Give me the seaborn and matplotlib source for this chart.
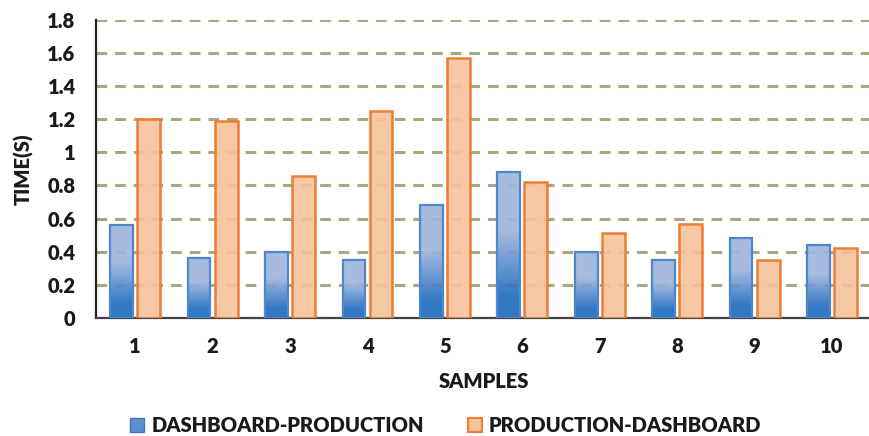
import numpy as np
import pandas as pd
import matplotlib
matplotlib.use("Agg")
import matplotlib.pyplot as plt
import matplotlib.colors as mcolors
from matplotlib.patches import Patch
import seaborn as sns

# Measured response times per sample (seconds)
samples = ["1", "2", "3", "4", "5", "6", "7", "8", "9", "10"]
dash_to_prod = [0.56, 0.36, 0.40, 0.35, 0.68, 0.88, 0.40, 0.35, 0.48, 0.44]
prod_to_dash = [1.20, 1.19, 0.86, 1.25, 1.57, 0.82, 0.51, 0.57, 0.35, 0.42]
series_names = ["DASHBOARD-PRODUCTION", "PRODUCTION-DASHBOARD"]
y_ticks = [0, 0.2, 0.4, 0.6, 0.8, 1, 1.2, 1.4, 1.6, 1.8]
y_tick_labels = ["0", "0.2", "0.4", "0.6", "0.8", "1", "1.2", "1.4", "1.6", "1.8"]

df = pd.DataFrame({
    "sample": samples * 2,
    "time": dash_to_prod + prod_to_dash,
    "series": [series_names[0]] * len(samples) + [series_names[1]] * len(samples),
})

sns.set_theme(style="white")
plt.rcParams["font.family"] = ["Lato", "DejaVu Sans"]
plt.rcParams["font.weight"] = "heavy"

BLUE_DARK = "#1f6cbf"
BLUE_LIGHT = "#9fb5dc"
BLUE_EDGE = "#4f86cc"
ORANGE_FILL = "#f5c29c"
ORANGE_EDGE = "#ed7d31"
GRID = "#a9a682"
TEXT = "#1a1a1a"
FS = 14.5

fig = plt.figure(figsize=(8.69, 4.36), dpi=100)
ax = fig.add_axes([0.111, 0.271, 0.891, 0.683])

sns.barplot(data=df, x="sample", y="time", hue="series", order=samples,
            hue_order=series_names, palette=[BLUE_LIGHT, ORANGE_FILL],
            width=0.70, gap=0.16, ax=ax, legend=False, zorder=2)

n = len(samples)
blue_patches = ax.patches[:n]
orange_patches = ax.patches[n:2 * n]

# vertical gradient for the first series: dark at the base, light above
grad_cmap = mcolors.LinearSegmentedColormap.from_list(
    "bluegrad", [(0.0, BLUE_DARK), (0.15, BLUE_DARK), (0.6, BLUE_LIGHT), (1.0, BLUE_LIGHT)])
t = np.linspace(0, 1, 256).reshape(-1, 1)
for p in blue_patches:
    x0, y0 = p.get_x(), p.get_y()
    w, h = p.get_width(), p.get_height()
    p.set_facecolor("none")
    p.set_edgecolor(BLUE_EDGE)
    p.set_linewidth(1.6)
    p.set_zorder(4)
    im = ax.imshow(t, cmap=grad_cmap, aspect="auto", origin="lower",
                   extent=[x0, x0 + w, y0, y0 + h], zorder=3, alpha=0.92,
                   interpolation="bilinear")
    im.set_clip_path(p)

for p in orange_patches:
    p.set_facecolor(mcolors.to_rgba(ORANGE_FILL, 0.9))
    p.set_edgecolor(ORANGE_EDGE)
    p.set_linewidth(1.8)
    p.set_zorder(3)

ax.set_xlim(-0.5, n - 0.5)
ax.set_ylim(0, 1.8)
ax.set_yticks(y_ticks)
ax.set_yticklabels(y_tick_labels)

ax.yaxis.grid(True, color=GRID, linestyle=(0, (3.5, 2.6)), linewidth=2.2, zorder=1)
ax.xaxis.grid(False)
ax.set_axisbelow(True)

for side in ["top", "right"]:
    ax.spines[side].set_visible(False)
ax.spines["left"].set_color("#222222")
ax.spines["left"].set_linewidth(1.6)
ax.spines["bottom"].set_color("#444444")
ax.spines["bottom"].set_linewidth(1.6)

ax.tick_params(axis="both", length=0, labelsize=FS, colors=TEXT)
ax.tick_params(axis="x", pad=14)
ax.tick_params(axis="y", pad=15)
for lab in ax.get_xticklabels() + ax.get_yticklabels():
    lab.set_fontweight("heavy")

ax.set_xlabel("SAMPLES", fontsize=FS, fontweight="heavy", color=TEXT, labelpad=11)
ax.set_ylabel("TIME(S)", fontsize=FS, fontweight="heavy", color=TEXT, labelpad=10)

handles = [
    Patch(facecolor="#5b8fd1", edgecolor="#3f74bb", linewidth=1.0),
    Patch(facecolor=ORANGE_FILL, edgecolor=ORANGE_EDGE, linewidth=1.5),
]
leg = fig.legend(handles, series_names, loc="center", bbox_to_anchor=(0.513, 0.025),
                 ncol=2, frameon=False, handlelength=0.7, handleheight=0.7,
                 handletextpad=0.35, columnspacing=2.2,
                 prop={"weight": "heavy", "size": FS})
for txt in leg.get_texts():
    txt.set_color(TEXT)

fig.savefig("out.png", dpi=100)
